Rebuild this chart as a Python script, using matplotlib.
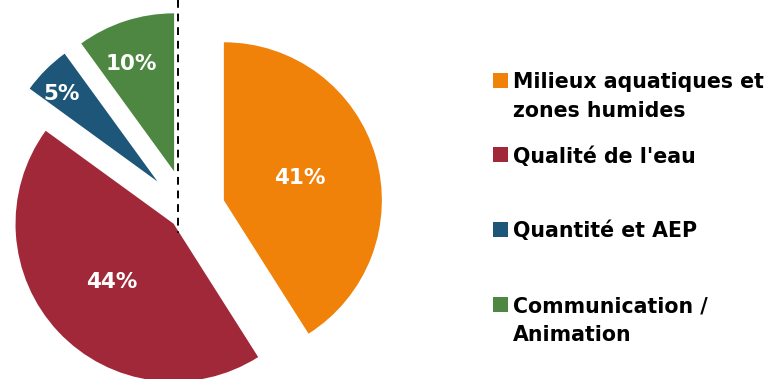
import matplotlib
matplotlib.use("Agg")
import matplotlib.pyplot as plt
from matplotlib.patches import Rectangle

# data
categories = ["Milieux aquatiques et\nzones humides", "Qualité de l'eau",
              "Quantité et AEP", "Communication /\nAnimation"]
shares = [41, 44, 5, 10]
colors = ["#F0820A", "#A12838", "#1D5678", "#4E8742"]
explode = [0.243, 0.117, 0.264, 0.264]  # fraction of radius

W, H = 769, 379
R = 158

def iy(y):
    # image y (from top) -> data y
    return H - y

fig = plt.figure(figsize=(W / 100, H / 100), dpi=100)
ax = fig.add_axes([0, 0, 1, 1])

# pie explode is in data units, so scale by the radius
ax.pie(shares, explode=[e * R for e in explode], colors=colors, startangle=90,
       counterclock=False, center=(187, iy(211)), radius=R,
       wedgeprops={"linewidth": 0})

# percentage labels
label_pos = [(300, 178), (112, 282), (62, 94), (131, 64)]
for v, (x, y) in zip(shares, label_pos):
    ax.text(x, iy(y), f"{v}%", color="white", fontsize=15.5, fontweight="bold",
            ha="center", va="center", family="DejaVu Sans")

# dashed reference line
ax.plot([178, 178], [iy(0), iy(233)], color="black", lw=1.4, linestyle=(0, (4, 3)))

# legend drawn by hand
legend_top = [73, 147, 222, 297]
for name, c, top in zip(categories, colors, legend_top):
    ax.add_patch(Rectangle((493, iy(top + 15)), 15, 15, color=c, lw=0))
    ax.text(513, iy(top - 1), name, fontsize=14.8, fontweight="bold", color="black",
            ha="left", va="top", linespacing=1.55, family="DejaVu Sans")

ax.set_xlim(0, W)
ax.set_ylim(0, H)
ax.set_aspect("equal")
ax.axis("off")

fig.savefig("out.png", dpi=100, facecolor="white")
